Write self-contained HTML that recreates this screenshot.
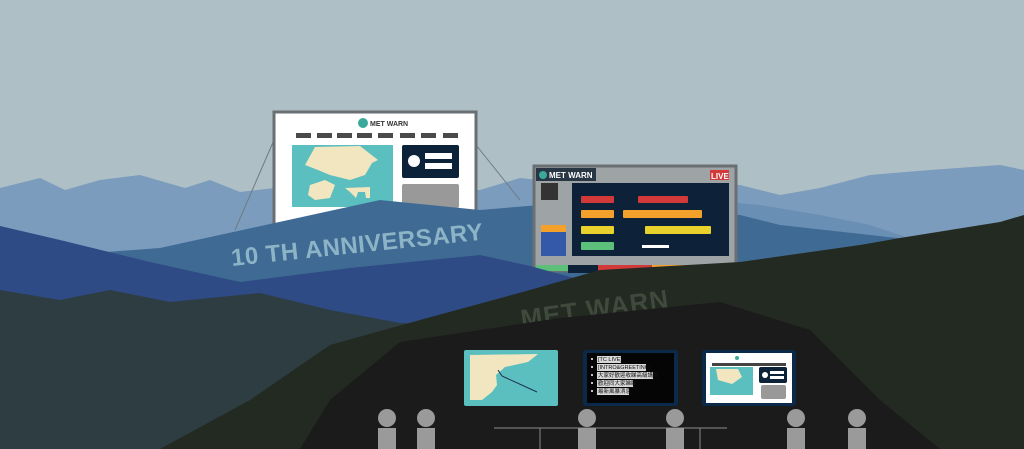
<!DOCTYPE html>
<html><head><meta charset="utf-8"><style>
html,body{margin:0;padding:0;background:#aebfc5;}
svg{display:block;}
text{font-family:"Liberation Sans","Noto Sans CJK TC",sans-serif;}
</style></head><body>
<svg width="1024" height="449" viewBox="0 0 1024 449" xmlns="http://www.w3.org/2000/svg">
<rect width="1024" height="449" fill="#aebfc5"/>
<polygon fill="#7b9cbd" points="0,188 40,178 65,190 100,180 140,175 185,188 210,180 240,192 300,185 480,190 520,178 560,182 740,185 780,195 820,188 870,175 930,170 1000,165 1024,170 1024,449 0,449"/>
<polygon fill="#6a8fb4" points="700,200 760,205 820,215 870,225 915,240 1024,240 1024,449 700,449"/>
<line x1="274" y1="140" x2="235" y2="230" stroke="#6e7a82" stroke-width="1"/>
<line x1="476" y1="145" x2="520" y2="200" stroke="#6e7a82" stroke-width="1"/>
<rect x="274" y="112" width="202" height="120" fill="#fff" stroke="#6a6f73" stroke-width="3"/>
<circle cx="363" cy="123" r="5" fill="#3aa99a"/>
<text x="370" y="126" font-size="7" font-weight="bold" fill="#333">MET WARN</text>
<g fill="#4a4a4a">
<rect x="296" y="133" width="15" height="5"/><rect x="317" y="133" width="15" height="5"/><rect x="337" y="133" width="15" height="5"/><rect x="357" y="133" width="15" height="5"/><rect x="378" y="133" width="15" height="5"/><rect x="400" y="133" width="15" height="5"/><rect x="421" y="133" width="15" height="5"/><rect x="443" y="133" width="15" height="5"/>
</g>
<rect x="292" y="145" width="101" height="62" fill="#5cbfbf"/>
<polygon fill="#f1e6c0" points="315,147 360,146 378,160 372,163 365,175 350,180 330,175 318,170 305,165" />
<polygon fill="#f1e6c0" points="310,185 325,180 335,185 330,198 315,200 308,195"/>
<polygon fill="#f1e6c0" points="345,188 370,187 370,198 366,198 365,192 358,192 356,198 350,192"/>
<rect x="402" y="145" width="57" height="33" rx="2" fill="#0b2238"/>
<circle cx="414" cy="161" r="6" fill="#fff"/>
<rect x="425" y="153" width="27" height="6" fill="#fff"/><rect x="425" y="163" width="27" height="6" fill="#fff"/>
<rect x="402" y="184" width="57" height="24" rx="2" fill="#999"/>
<!-- band -->
<polygon fill="#3f6a94" points="160,248 380,200 480,210 540,205 740,215 780,225 870,235 915,240 915,300 0,300 0,260"/>
<text x="0" y="0" font-size="24" font-weight="bold" fill="#8db4c6" letter-spacing="0.5" transform="translate(232,266) rotate(-6)">10 TH ANNIVERSARY</text>
<!-- billboard 2 (in front of band) -->
<rect x="534" y="166" width="202" height="105" fill="#9ea3a6" stroke="#6a6f73" stroke-width="3"/>
<rect x="536" y="168" width="60" height="13" fill="#1c2a3a" opacity="0.9"/>
<circle cx="543" cy="175" r="4" fill="#3aa99a"/>
<text x="549" y="178" font-size="8" font-weight="bold" fill="#fff">MET WARN</text>
<rect x="710" y="170" width="19" height="10" fill="#d23a3a"/>
<text x="711" y="179" font-size="8" font-weight="bold" fill="#fff">LIVE</text>
<rect x="541" y="183" width="17" height="17" fill="#333"/>
<rect x="541" y="225" width="25" height="7" fill="#f4a12b"/>
<rect x="541" y="232" width="25" height="24" fill="#3459a8"/>
<rect x="572" y="183" width="157" height="73" fill="#0d2139"/>
<rect x="581" y="196" width="33" height="7" rx="1" fill="#d23a3a"/><rect x="638" y="196" width="50" height="7" rx="1" fill="#d23a3a"/>
<rect x="581" y="210" width="33" height="8" rx="1" fill="#f4a12b"/><rect x="623" y="210" width="79" height="8" rx="1" fill="#f4a12b"/>
<rect x="581" y="226" width="33" height="8" rx="1" fill="#e8d22b"/><rect x="645" y="226" width="66" height="8" rx="1" fill="#e8d22b"/>
<rect x="581" y="242" width="33" height="8" rx="1" fill="#5cbf7a"/><rect x="642" y="245" width="27" height="3" fill="#fff"/>
<rect x="536" y="265" width="32" height="6" fill="#5cbf7a"/><rect x="568" y="265" width="30" height="8" fill="#0d2139"/>
<rect x="598" y="265" width="54" height="6" fill="#d23a3a"/><rect x="652" y="265" width="54" height="6" fill="#f4a12b"/><rect x="706" y="265" width="29" height="6" fill="#e8d22b"/>
<!-- navy -->
<polygon fill="#2f4b85" points="0,226 60,240 150,262 240,282 350,268 480,255 530,266 600,285 640,300 640,449 0,449"/>
<polygon fill="#2d3d42" points="0,290 60,300 110,290 170,302 260,293 330,310 400,323 460,325 460,449 0,449"/>
<polygon fill="#232a21" points="160,449 250,400 330,345 420,320 530,290 600,270 740,262 860,245 900,238 1000,222 1024,215 1024,449"/>
<text x="0" y="0" font-size="26" font-weight="bold" fill="#3f4a3d" letter-spacing="1" transform="translate(522,328) rotate(-8)">MET WARN</text>
<polygon fill="#1b1b1b" points="300,449 330,400 400,342 560,318 720,302 810,330 880,400 940,449"/>
<!-- screens -->
<rect x="464" y="350" width="94" height="56" rx="2" fill="#5cbfbf"/>
<polygon fill="#f1e6c0" points="470,355 538,354 528,362 505,367 496,375 497,385 492,392 482,400 470,400"/>
<polyline points="498,370 502,376 537,392" fill="none" stroke="#1c3050" stroke-width="1"/>
<rect x="583" y="350" width="95" height="56" rx="3" fill="#0b2a4a"/>
<rect x="587" y="353" width="87" height="50" fill="#050505"/>
<g fill="#d8d8d8">
<rect x="597" y="356" width="24" height="7"/>
<rect x="597" y="364" width="49" height="7"/>
<rect x="597" y="372" width="56" height="7"/>
<rect x="597" y="380" width="36" height="7"/>
<rect x="597" y="388" width="32" height="7"/>
</g>
<g font-size="5.5" fill="#111">
<text x="598" y="361">[TC LIVE]</text>
<text x="598" y="369">[INTRO&amp;GREETING]</text>
<text x="598" y="377">大家好歡迎收睇高級講解</text>
<text x="598" y="385">歡迎同大家睇睇</text>
<text x="598" y="393">最新風暴消息</text>
</g>
<g fill="#fff"><circle cx="592" cy="359" r="1"/><circle cx="592" cy="367" r="1"/><circle cx="592" cy="375" r="1"/><circle cx="592" cy="383" r="1"/><circle cx="592" cy="391" r="1"/></g>
<rect x="702" y="350" width="94" height="56" rx="3" fill="#0b2a4a"/>
<rect x="706" y="353" width="86" height="50" fill="#fff"/>
<circle cx="737" cy="358" r="2" fill="#3aa99a"/>
<g fill="#444"><rect x="712" y="363" width="74" height="3"/></g>
<rect x="710" y="367" width="43" height="28" fill="#5cbfbf"/>
<polygon fill="#f1e6c0" points="716,369 738,369 742,377 732,384 718,380" />
<rect x="759" y="367" width="28" height="16" rx="2" fill="#0b2238"/>
<circle cx="765" cy="375" r="3" fill="#fff"/><rect x="770" y="371" width="14" height="3" fill="#fff"/><rect x="770" y="376" width="14" height="3" fill="#fff"/>
<rect x="761" y="385" width="25" height="14" rx="2" fill="#999"/>
<line x1="494" y1="428" x2="727" y2="428" stroke="#777" stroke-width="1.2"/>
<line x1="540" y1="428" x2="540" y2="449" stroke="#777" stroke-width="1.2"/>
<line x1="700" y1="428" x2="700" y2="449" stroke="#777" stroke-width="1.2"/>
<g fill="#9a9a9a">
<circle cx="387" cy="418" r="9"/><rect x="378" y="428" width="18" height="21"/>
<circle cx="426" cy="418" r="9"/><rect x="417" y="428" width="18" height="21"/>
<circle cx="587" cy="418" r="9"/><rect x="578" y="428" width="18" height="21"/>
<circle cx="675" cy="418" r="9"/><rect x="666" y="428" width="18" height="21"/>
<circle cx="796" cy="418" r="9"/><rect x="787" y="428" width="18" height="21"/>
<circle cx="857" cy="418" r="9"/><rect x="848" y="428" width="18" height="21"/>
</g>
</svg>
</body></html>
